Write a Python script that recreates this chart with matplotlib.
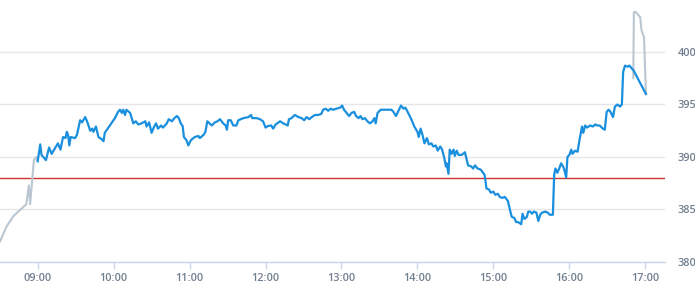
import pandas as pd
import matplotlib
matplotlib.use('Agg')
import matplotlib.pyplot as plt
import matplotlib.dates as mdates

day = '2024-01-02 '

# pre-market / post-market (gray)
pre_times = ['08:30', '08:35:30', '08:41', '08:51', '08:53', '08:54', '08:55:30',
             '08:57', '08:59', '09:00']
pre_prices = [381.9, 383.4, 384.4, 385.5, 387.3, 385.5, 387.6, 389.7, 390.0, 389.6]

post_times = ['16:50:30', '16:51', '16:52:30', '16:54', '16:56', '16:57', '16:58',
              '16:59', '17:00:30']
post_prices = [397.5, 403.8, 403.8, 403.6, 403.3, 402.1, 401.7, 401.4, 396.0]

# regular session (blue)
times = [
    '09:00', '09:02', '09:03', '09:06:30', '09:09', '09:11', '09:14', '09:16', '09:18',
    '09:20', '09:22', '09:23', '09:24', '09:25', '09:26', '09:29:30', '09:31', '09:33:30',
    '09:35', '09:37:30', '09:39', '09:41:30', '09:43', '09:44', '09:46', '09:48', '09:50:30',
    '09:52', '09:53', '09:57', '10:01', '10:03:30', '10:05', '10:06:30', '10:07:30', '10:09',
    '10:10', '10:13', '10:15:30', '10:17:30', '10:19:30', '10:22', '10:25', '10:26', '10:28',
    '10:30', '10:32', '10:33:30', '10:35', '10:37:30', '10:39', '10:42', '10:43:30', '10:46',
    '10:48', '10:50', '10:51:30', '10:53', '10:54:30', '10:55:30', '10:57:30', '10:59',
    '11:01', '11:04', '11:07', '11:08', '11:11', '11:12:30', '11:14', '11:17:30', '11:20',
    '11:22', '11:24', '11:26:30', '11:28:30', '11:29:30', '11:30:30', '11:32:30', '11:34:30',
    '11:37', '11:38:30', '11:42:30', '11:46:30', '11:48:30', '11:49:30', '11:53', '11:55:30',
    '11:58', '12:00', '12:02', '12:04:30', '12:06', '12:08', '12:11:30', '12:14', '12:17:30',
    '12:18:30', '12:20:30', '12:23', '12:26', '12:28:30', '12:30:30', '12:32:30', '12:34:30',
    '12:36:30', '12:39', '12:41:30', '12:44', '12:45:30', '12:47:30', '12:49:30', '12:51:30',
    '12:53:30', '12:56', '12:59', '13:00:30', '13:02', '13:04', '13:06', '13:08', '13:10',
    '13:11:30', '13:13:30', '13:15', '13:16:30', '13:18:30', '13:20:30', '13:22:30',
    '13:24:30', '13:26', '13:27', '13:28:30', '13:31', '13:34:30', '13:39:30', '13:41',
    '13:43', '13:45', '13:47', '13:49', '13:50:30', '13:53:30', '13:55:30', '13:57:30',
    '14:00', '14:01', '14:02:30', '14:04', '14:05:30', '14:07:30', '14:09', '14:11',
    '14:12:30', '14:14:30', '14:16', '14:18', '14:19:30', '14:21', '14:22:30', '14:23',
    '14:24:30', '14:25:30', '14:27', '14:28:30', '14:29:30', '14:31', '14:32:30', '14:35',
    '14:37:30', '14:39', '14:40', '14:42:30', '14:44', '14:45:30', '14:47:30', '14:50',
    '14:53', '14:54', '14:54:30', '14:56:30', '14:58', '15:00', '15:01:30', '15:03:30',
    '15:05', '15:07', '15:09', '15:11:30', '15:13', '15:14:30', '15:16:30', '15:18',
    '15:19:30', '15:22', '15:23', '15:24:30', '15:26:30', '15:27:30', '15:29', '15:30:30',
    '15:32', '15:34', '15:35:30', '15:37', '15:38:30', '15:41', '15:43', '15:44:30', '15:47',
    '15:48', '15:49', '15:50:30', '15:52', '15:53:30', '15:55', '15:56', '15:57:30',
    '15:58:30', '16:00', '16:01:30', '16:02:30', '16:04:30', '16:06:30', '16:08', '16:10',
    '16:11', '16:12:30', '16:14', '16:16:30', '16:18:30', '16:20:30', '16:22', '16:24',
    '16:26:30', '16:28', '16:29:30', '16:31', '16:32:30', '16:34:30', '16:36', '16:38',
    '16:40', '16:41:30', '16:42:30', '16:44', '16:46', '16:47:30', '16:49:30', '16:50:30',
    '17:00:30',
]
prices = [
    389.6, 391.2, 390.2, 389.7, 390.9, 390.3, 390.9, 391.3, 390.7,
    391.9, 391.8, 392.4, 392.1, 391.1, 391.9, 391.8, 392.1, 393.5,
    393.3, 393.8, 393.4, 392.5, 392.7, 392.4, 392.9, 391.9, 391.7,
    391.5, 392.3, 393.0, 393.7, 394.3, 394.5, 394.2, 394.5, 394.0,
    394.5, 394.2, 393.2, 393.4, 393.1, 393.2, 393.4, 392.9, 393.3,
    392.3, 392.9, 393.2, 392.7, 393.0, 392.8, 393.2, 393.6, 393.4,
    393.7, 393.9, 393.7, 393.2, 392.95, 391.9, 391.6, 391.1,
    391.6, 391.9, 392.0, 391.8, 392.1, 392.4, 393.4, 393.0, 393.3,
    393.4, 393.6, 393.2, 393.0, 392.6, 393.5, 393.5, 393.0,
    393.0, 393.5, 393.7, 393.8, 394.0, 393.7, 393.7, 393.6,
    393.4, 392.8, 392.95, 393.0, 392.7, 393.1, 393.4, 393.2, 393.0,
    393.6, 393.7, 394.0, 393.8, 393.7, 393.5, 393.8, 393.6,
    393.8, 394.0, 394.0, 394.1, 394.5, 394.6, 394.4, 394.6,
    394.5, 394.6, 394.7, 394.9, 394.5, 394.2, 393.9, 394.2, 394.3,
    393.9, 393.7, 393.9, 393.6, 393.7, 393.4, 393.2,
    393.4, 393.7, 393.2, 394.2, 394.5, 394.5, 394.5, 394.3,
    393.9, 394.4, 394.9, 394.6, 394.7, 394.0, 393.5, 392.9,
    392.4, 391.9, 392.7, 392.1, 391.3, 391.8, 391.2, 391.3,
    391.0, 391.1, 390.6, 391.0, 390.7, 390.0, 389.1, 389.4,
    388.4, 390.7, 390.3, 390.7, 390.1, 390.6, 390.2, 390.2,
    390.45, 389.7, 389.2, 389.1, 388.9, 389.2, 388.9, 388.8,
    388.3, 387.5, 387.0, 386.9, 386.6, 386.7, 386.4, 386.5,
    386.2, 386.1, 386.2, 385.8, 385.0, 384.3, 384.2, 383.8,
    383.8, 383.6, 384.6, 384.1, 384.3, 384.8, 384.8, 384.6,
    384.8, 384.7, 383.9, 384.5, 384.7, 384.8, 384.7, 384.5, 384.5,
    388.3, 388.9, 388.5, 388.9, 389.4, 389.1, 388.8, 388.05,
    390.0, 390.2, 390.7, 390.3, 390.6, 390.5, 391.6, 392.9,
    392.3, 393.0, 392.8, 393.0, 392.9, 393.1, 393.0, 393.0,
    392.7, 392.6, 394.3, 394.5, 394.3, 393.8, 394.8, 395.0,
    394.8, 395.0, 398.1, 398.7, 398.6, 398.7, 398.4, 398.3,
    396.0,
]

reference_price = 388.0
y_ticks = [380, 385, 390, 395, 400]
x_ticks = ['09:00', '10:00', '11:00', '12:00', '13:00', '14:00', '15:00', '16:00', '17:00']


def to_dt(ts):
    return pd.to_datetime([day + t for t in ts], format='mixed')


label_color = '#707f8f'
grid_color = '#e6e6e6'

fig = plt.figure(figsize=(6.95, 3.0), dpi=100)
ax = fig.add_axes([0, 38 / 300, 665 / 695, 262 / 300])

ax.plot(to_dt(pre_times), pre_prices, color='#bac6d1', lw=1.5, solid_capstyle='round', zorder=3)
ax.plot(to_dt(post_times), post_prices, color='#bac6d1', lw=1.5, solid_capstyle='round', zorder=3)
ax.plot(to_dt(times), prices, color='#1a8fde', lw=1.6, solid_joinstyle='round', zorder=4)
ax.axhline(reference_price, color='#d0342c', lw=1.0, zorder=2)

ax.set_ylim(380, 404.95)
ax.set_xlim(pd.Timestamp(day + '08:30:13'), pd.Timestamp(day + '17:15:34'))

ax.set_yticks(y_ticks)
ax.set_xticks(to_dt(x_ticks))
ax.xaxis.set_major_formatter(mdates.DateFormatter('%H:%M'))

ax.grid(axis='y', color=grid_color, lw=1.0)
ax.set_axisbelow(True)
for side in ['top', 'left', 'right']:
    ax.spines[side].set_visible(False)
ax.spines['bottom'].set_color('#ccd6eb')
ax.spines['bottom'].set_linewidth(1.0)

ax.yaxis.tick_right()
ax.tick_params(axis='y', length=0, pad=9, labelcolor=label_color, labelsize=7.8)
ax.tick_params(axis='x', length=5, width=1.0, color='#ccd6eb', pad=3,
               labelcolor=label_color, labelsize=7.8)
for lab in ax.get_xticklabels() + ax.get_yticklabels():
    lab.set_fontfamily('Open Sans')
    lab.set_fontweight('semibold')

fig.savefig('out.png', dpi=100)
